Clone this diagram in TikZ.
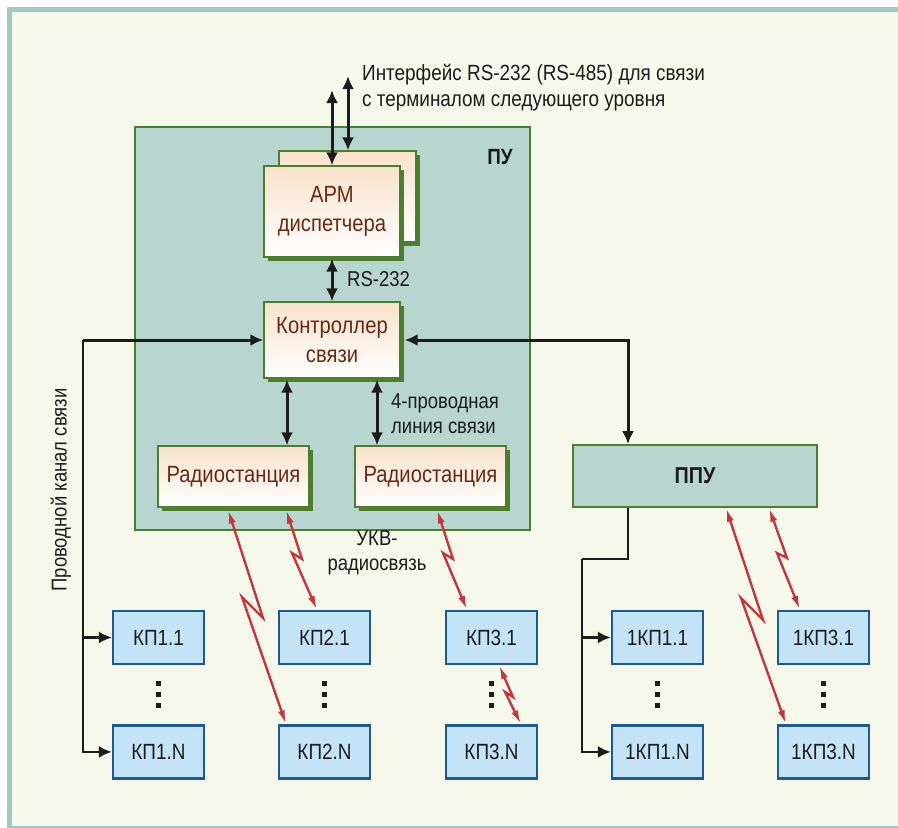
\documentclass[tikz,border=0pt]{standalone}
\usepackage{fontspec}
\setmainfont[FakeStretch=0.86]{Liberation Sans}
\usetikzlibrary{arrows.meta,positioning,shadows}

\definecolor{frameteal}{HTML}{A3C8C1}
\definecolor{paper}{HTML}{F7F8EC}
\definecolor{puteal}{HTML}{B8D5CF}
\definecolor{pugreen}{HTML}{4D7E2F}
\definecolor{peach}{HTML}{F8E2CC}
\definecolor{brownink}{HTML}{6A2812}
\definecolor{kpblue}{HTML}{C5E3F6}
\definecolor{kpedge}{HTML}{1D5A8E}
\definecolor{radiored}{HTML}{C0393B}
\definecolor{ink}{HTML}{1C1C1C}

\begin{document}
\begin{tikzpicture}[
  x=1pt, y=-1pt,
  >=Latex,
  lbl/.style={font=\fontsize{21.5}{25}\selectfont, text=ink, inner sep=0pt},
  unit/.style={draw=pugreen, line width=1.6pt, fill=puteal, inner sep=0pt},
  box/.style={draw=pugreen, line width=1.3pt, shade, top color=peach, bottom color=white,
    general shadow={fill=pugreen, shadow xshift=4pt, shadow yshift=-4pt},
    text=brownink, align=center, inner sep=0pt,
    font=\fontsize{23.5}{28.5}\selectfont},
  kp/.style={draw=kpedge, line width=2.4pt, fill=kpblue, inner sep=0pt,
    minimum width=91pt, minimum height=53pt, text=ink,
    font=\fontsize{22}{26}\selectfont},
  dbl/.style={{Latex[length=13pt,width=12pt]}-{Latex[length=13pt,width=12pt]}, line width=3pt, draw=ink},
  wire/.style={line width=2.2pt, draw=ink},
  tip/.style={-{Latex[length=13pt,width=12pt]}},
  radio/.style={{Latex[length=14pt,width=7pt]}-{Latex[length=14pt,width=7pt]}, line width=2.4pt, draw=radiored, line join=miter},
  dot/.style={fill=ink, minimum size=5pt, inner sep=0pt}
]
% frame
\useasboundingbox (0,0) rectangle (898,828);
\fill[white] (0,0) rectangle (898,828);
\fill[frameteal] (7,7) rectangle (898,828);
\fill[paper] (12,12) rectangle (898,826);

% ПУ
\node[unit, minimum width=395pt, minimum height=403pt] (pu) at (332.5,328.5) {};
\node[font=\bfseries\fontsize{22}{26}\selectfont, text=ink] (pulbl) at (500,157) {ПУ};

\node[box, minimum width=137pt, minimum height=91pt] (apmb) at (347.5,196.5) {};
\node[box, minimum width=136pt, minimum height=91pt] (apm) at (332,211.5) {АРМ\\диспетчера};
\node[box, minimum width=136pt, minimum height=76pt] (ctl) at (332,340) {Контроллер\\связи};
\node[box, minimum width=151pt, minimum height=61pt] (r1) at (233.5,476.5) {Радиостанция};
\node[box, minimum width=151pt, minimum height=61pt] (r2) at (430.5,476.5) {Радиостанция};

% ППУ
\node[unit, minimum width=244pt, minimum height=62pt, font=\bfseries\fontsize{23}{26}\selectfont, text=ink] (ppu) at (695,476) {ППУ};

% КП
\node[kp] (kp11) at (158.5,637.5) {КП1.1};
\node[kp, below=59pt of kp11] (kp1n) {КП1.N};
\node[kp] (kp21) at (324.5,637.5) {КП2.1};
\node[kp, below=59pt of kp21] (kp2n) {КП2.N};
\node[kp] (kp31) at (491.5,637.5) {КП3.1};
\node[kp, below=59pt of kp31] (kp3n) {КП3.N};
\node[kp] (k11) at (657.5,637.5) {1КП1.1};
\node[kp, below=59pt of k11] (k1n) {1КП1.N};
\node[kp] (k31) at (823.5,637.5) {1КП3.1};
\node[kp, below=59pt of k31] (k3n) {1КП3.N};

\foreach \c in {kp11,kp21,kp31,k11,k31}
  \foreach \d in {18,29,40}
    \node[dot] at ([yshift=-\d pt]\c.south) {};

% labels
\node[lbl, font=\fontsize{22}{26}\selectfont, anchor=west, align=left] (iflbl) at (362,88) {Интерфейс RS-232 (RS-485) для связи\\с терминалом следующего уровня};
\node[lbl, anchor=west] (rslbl) at (347,279) {RS-232};
\node[lbl, anchor=west, align=left] (linlbl) at (391,414) {4-проводная\\линия связи};
\node[lbl, align=center] (ukv) at (377,553) {УКВ-\\радиосвязь};
\node[lbl, rotate=90] (wlbl) at (61,490) {Проводной канал связи};

% interface
\coordinate (ifa) at (332,90);
\coordinate (ifb) at (348,76);
\draw[dbl] (ifa) -- (apm.north);
\draw[dbl] (ifb) -- (ifb |- apmb.north);
\draw[dbl] ([yshift=-1pt]apm.south) -- (ctl.north);
\draw[dbl] ([xshift=-45pt,yshift=-1pt]ctl.south) -- ([xshift=-45pt]ctl.south |- r1.north);
\draw[dbl] ([xshift=45pt,yshift=-1pt]ctl.south) -- ([xshift=45pt]ctl.south |- r2.north);

% проводной канал
\coordinate (wl) at (83,340);
\draw[wire, line width=3pt, tip] (wl) -- (ctl.west);
\draw[wire, tip] (wl) |- (kp1n.west);
\draw[wire, tip] (wl |- kp11.west) -- (kp11.west);
\draw[wire, line width=3pt, <->, >={Latex[length=13pt,width=12pt]}] ([xshift=4pt]ctl.east) -| ([xshift=-67pt]ppu.north);
\coordinate (wr) at (582,559);
\draw[wire] ([xshift=-67pt]ppu.south) |- (wr);
\draw[wire, tip] (wr) |- (k1n.west);
\draw[wire, tip] (wr |- k11.west) -- (k11.west);

% УКВ радиосвязь
\draw[radio] ([xshift=-5.5pt,yshift=-2pt]r1.south) -- (263,618) -- (242,597) -- ([xshift=-38.5pt]kp2n.north);
\draw[radio] ([xshift=52.5pt,yshift=-2pt]r1.south) -- (302,559) -- (292,553) -- ([xshift=-7.5pt]kp21.north);
\draw[radio] ([xshift=6.5pt,yshift=-2pt]r2.south) -- (453,559) -- (443,553) -- ([xshift=-24.5pt]kp31.north);
\draw[radio] ([xshift=7.5pt]kp31.south) -- (513,697) -- (505,692) -- ([xshift=29.5pt]kp3n.north);
\draw[radio] ([xshift=31pt]ppu.south) -- (763,620) -- (741,598) -- ([xshift=-37.5pt]k3n.north);
\draw[radio] ([xshift=74pt]ppu.south) -- (787,558) -- (777,553) -- ([xshift=-23.5pt]k31.north);
\end{tikzpicture}
\end{document}
